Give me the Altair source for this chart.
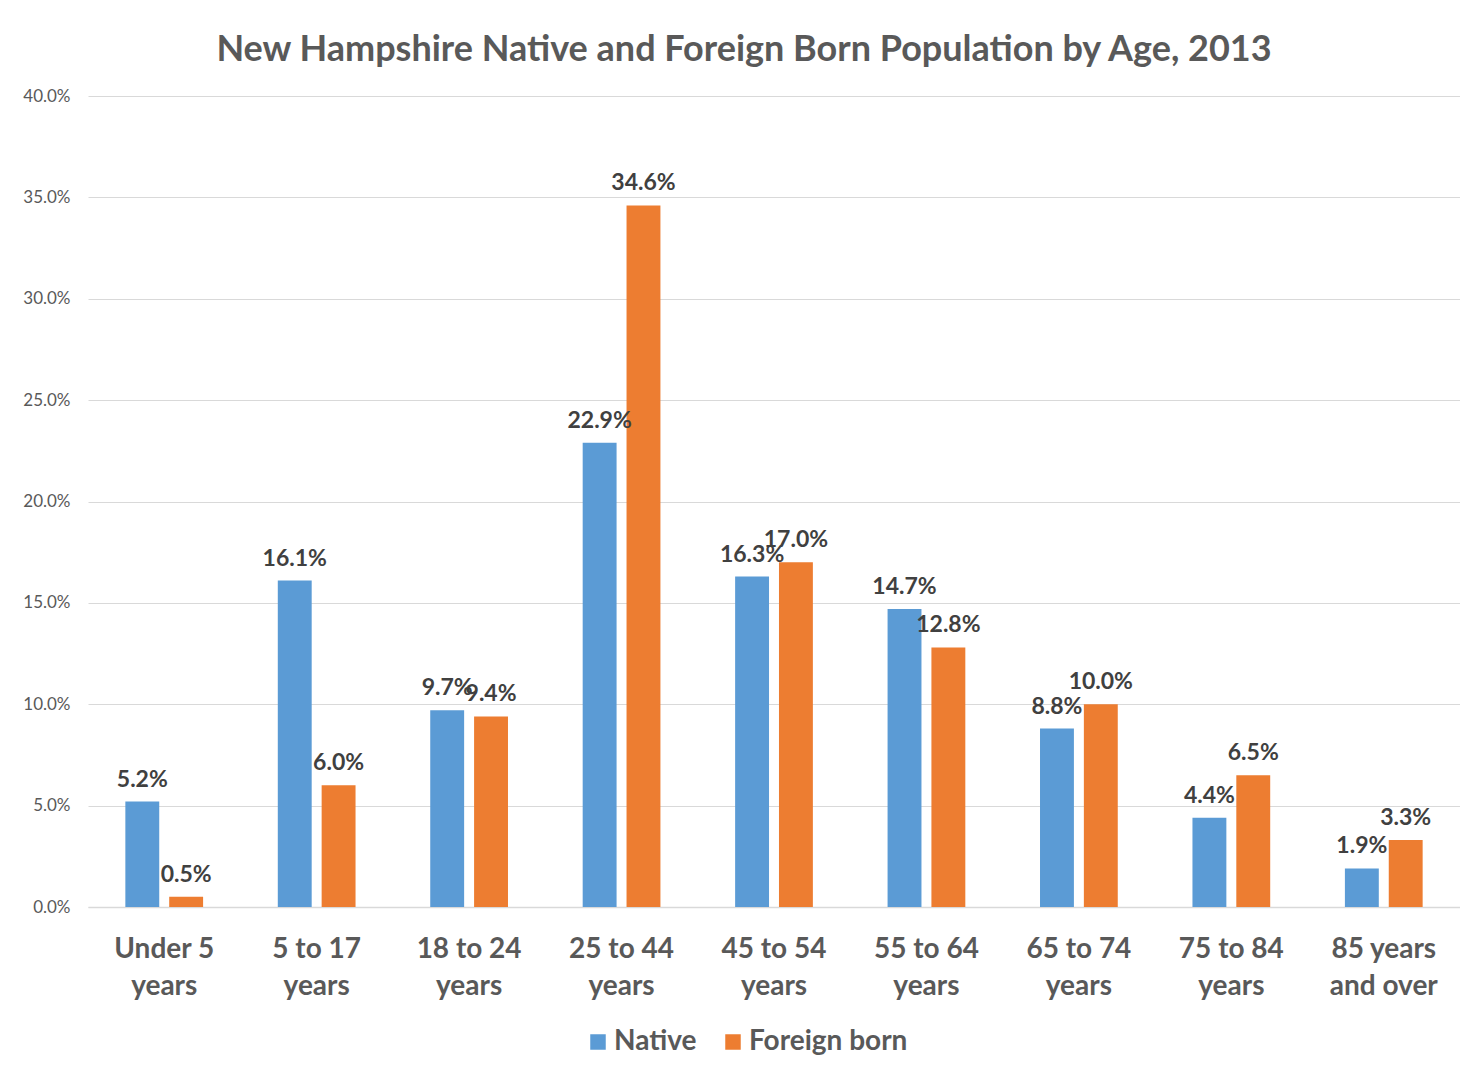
import altair as alt
import pandas as pd

categories = ["Under 5|years", "5 to 17|years", "18 to 24|years", "25 to 44|years",
              "45 to 54|years", "55 to 64|years", "65 to 74|years", "75 to 84|years",
              "85 years|and over"]
native = [5.2, 16.1, 9.7, 22.9, 16.3, 14.7, 8.8, 4.4, 1.9]
foreign = [0.5, 6.0, 9.4, 34.6, 17.0, 12.8, 10.0, 6.5, 3.3]
series = ["Native", "Foreign born"]
colors = ["#5B9BD5", "#ED7D31"]

rows = []
for c, n, f in zip(categories, native, foreign):
    rows.append({"cat": c, "series": series[0], "value": n / 100})
    rows.append({"cat": c, "series": series[1], "value": f / 100})
df = pd.DataFrame(rows)

FONT = "Lato"
W, H = 1372, 811

x = alt.X("cat:N", sort=categories,
          scale=alt.Scale(paddingInner=0.49, paddingOuter=0.245),
          axis=alt.Axis(title=None, labelAngle=0, labelExpr="split(datum.label, '|')",
                        labelFont=FONT, labelFontSize=28, labelFontWeight="bold",
                        labelColor="#595959", labelLineHeight=37, labelPadding=28,
                        labelBaseline="top",
                        domainColor="#d9d9d9", domainWidth=1.5, ticks=False, grid=False))
xo = alt.XOffset("series:N", sort=series,
                 scale=alt.Scale(paddingInner=0.227, paddingOuter=0))
y = alt.Y("value:Q",
          scale=alt.Scale(domain=[0, 0.4], nice=False),
          axis=alt.Axis(title=None, format=".1%", values=[0, 0.05, 0.1, 0.15, 0.2, 0.25, 0.3, 0.35, 0.4],
                        labelFont=FONT, labelFontSize=17, labelColor="#595959",
                        labelPadding=18, domain=False, ticks=False,
                        gridColor="#d9d9d9", gridWidth=1))
color = alt.Color("series:N", sort=series,
                  scale=alt.Scale(domain=series, range=colors),
                  legend=alt.Legend(title=None, orient="none", legendX=496, legendY=932,
                                    direction="horizontal", symbolType="square",
                                    symbolSize=240, symbolStrokeWidth=0,
                                    labelFont=FONT, labelFontSize=28, labelFontWeight="bold",
                                    labelColor="#595959", columnPadding=22, labelOffset=2,
                                    labelLimit=300))

base = alt.Chart(df)
bars = base.mark_bar().encode(x=x, xOffset=xo, y=y, color=color)
labels = base.mark_text(font=FONT, fontSize=23, fontWeight="bold", color="#404040",
                        baseline="alphabetic", dy=-15).encode(
    x=alt.X("cat:N", sort=categories), xOffset=alt.XOffset("series:N", sort=series),
    y="value:Q", text=alt.Text("value:Q", format=".1%"))

chart = alt.layer(bars, labels).properties(
    width=W, height=H,
    title=alt.Title("New Hampshire Native and Foreign Born Population by Age, 2013",
                    font=FONT, fontSize=36, fontWeight="bold", color="#595959",
                    anchor="middle", dx=-30, offset=18),
    autosize=alt.AutoSizeParams(type="none"),
    padding={"left": 80, "top": 88, "right": 0, "bottom": 158},
).configure(background="white", view=alt.ViewConfig(stroke=None))

chart.save("out.html", embed_options={"renderer": "svg", "actions": False})
